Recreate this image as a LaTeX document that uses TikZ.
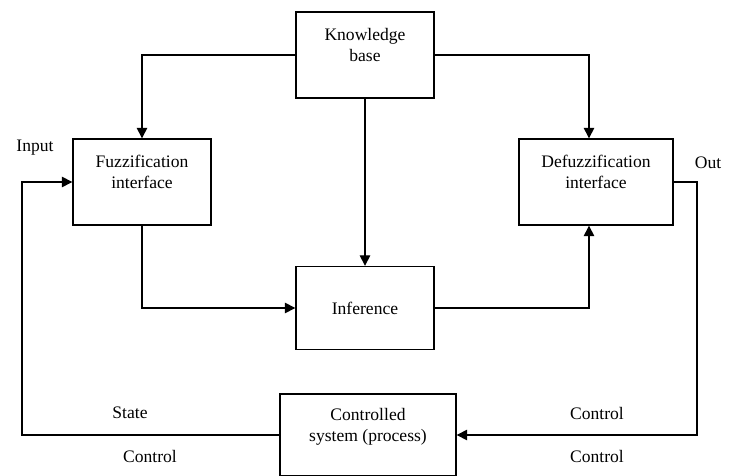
\documentclass[tikz,border=0pt]{standalone}
\usepackage{fontspec}
\setmainfont{Liberation Serif}
\usetikzlibrary{arrows.meta}
\tikzset{
  block/.style={draw, line width=0.8pt, align=center, minimum width=2.76cm, minimum height=1.72cm},
  arr/.style={line width=0.8pt, -{Triangle[length=6pt,width=6pt]}}
}
\begin{document}
\begin{tikzpicture}[x=0.02cm,y=-0.02cm]
\useasboundingbox (0,0) rectangle (730,476);
\node[block] (kb) at (365,55) {Knowledge\\base\\~};
\node[block] (fuzz) at (142,182) {Fuzzification\\interface\\~};
\node[block, minimum width=3.08cm] (defuzz) at (596,182) {Defuzzification\\interface\\~};
\node[block, minimum height=1.66cm] (inf) at (365,308) {Inference};
\node[block, minimum width=3.52cm, minimum height=1.64cm] (plant) at (368,435) {Controlled\\system (process)\\~};
\coordinate (outR) at (697,182);
\coordinate (inL) at (22,435);
\draw[arr] (kb.west) -| (fuzz.north);
\draw[arr] (kb.east) -| ([xshift=-0.14cm]defuzz.north);
\draw[arr] (kb) -- (inf);
\draw[arr] (fuzz.south) |- (inf.west);
\draw[arr] (inf.east) -| ([xshift=-0.14cm]defuzz.south);
\draw[arr] (defuzz.east) -- (outR) |- (plant.east);
\draw[arr] (plant.west) -- (inL) |- (fuzz.west);
\node (input) at (35,148) {Input};
\node (output) at (708,163) {Out};
\node (state) at (130,413) {State};
\node (ctrlL) at (150,456) {Control};
\node (ctrlR1) at (597,413) {Control};
\node (ctrlR2) at (597,456) {Control};
\end{tikzpicture}
\end{document}
